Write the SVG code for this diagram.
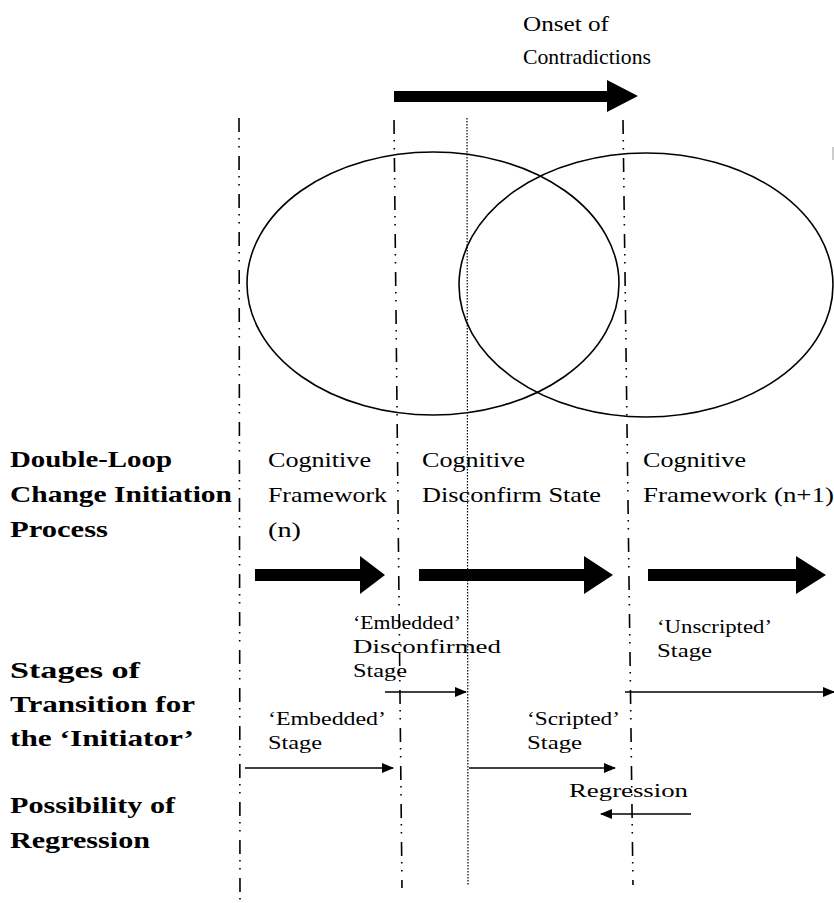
<svg xmlns="http://www.w3.org/2000/svg" width="834" height="903" viewBox="0 0 834 903">
  <style>
    .t { font-family: "Liberation Serif", "Times New Roman", serif; font-size: 22px; fill: #000; }
    .b { font-family: "Liberation Serif", "Times New Roman", serif; font-size: 23px; font-weight: bold; fill: #000; }
    .s { font-family: "Liberation Serif", "Times New Roman", serif; font-size: 19px; fill: #000; }
    .loop { fill: none; stroke: #000; stroke-width: 1.6; }
    .dashdot { fill: none; stroke: #000; stroke-width: 1.6; stroke-dasharray: 14 6 1.5 6.5 1.5 8.5; }
    .dotted { fill: none; stroke: #000; stroke-width: 1.2; stroke-dasharray: 1.5 1.5; }
    .thin { fill: none; stroke: #000; stroke-width: 1.5; }
    .block { fill: #000; stroke: none; }
  </style>
  <defs>
    <marker id="head" viewBox="0 0 12 10" refX="11" refY="5" markerWidth="12" markerHeight="10" markerUnits="userSpaceOnUse" orient="auto">
      <path d="M0,0 L12,5 L0,10 Z" fill="#000"/>
    </marker>
  </defs>

  <!-- boundary lines between phases -->
  <g id="boundaries">
    <line class="dashdot" x1="239" y1="118" x2="240" y2="903"/>
    <line class="dashdot" x1="394" y1="120" x2="402" y2="888"/>
    <line class="dotted" x1="467" y1="118" x2="468" y2="885"/>
    <line class="dashdot" x1="623" y1="120" x2="633" y2="885"/>
  </g>

  <!-- overlapping cognitive frameworks -->
  <g id="framework-n">
    <ellipse class="loop" cx="433" cy="283.5" rx="186" ry="131.5"/>
  </g>
  <g id="framework-n1">
    <ellipse class="loop" cx="646" cy="285" rx="187" ry="132"/>
  </g>
  <line x1="833" y1="147" x2="833" y2="160" stroke="#bbb" stroke-width="1.5"/>

  <!-- onset of contradictions -->
  <g id="onset">
    <text class="t" x="523" y="31" textLength="86" lengthAdjust="spacingAndGlyphs">Onset of</text>
    <text class="t" x="523" y="64" textLength="128" lengthAdjust="spacingAndGlyphs">Contradictions</text>
    <polygon class="block" points="394,91 607,91 607,80 638,96 607,112 607,102 394,102"/>
  </g>

  <!-- row labels -->
  <g id="label-process">
    <text class="b" x="10" y="467" textLength="162" lengthAdjust="spacingAndGlyphs">Double-Loop</text>
    <text class="b" x="10" y="502" textLength="222" lengthAdjust="spacingAndGlyphs">Change Initiation</text>
    <text class="b" x="10" y="537" textLength="98" lengthAdjust="spacingAndGlyphs">Process</text>
  </g>
  <g id="label-stages">
    <text class="b" x="10" y="678" textLength="130" lengthAdjust="spacingAndGlyphs">Stages of</text>
    <text class="b" x="10" y="712" textLength="185" lengthAdjust="spacingAndGlyphs">Transition for</text>
    <text class="b" x="10" y="746" textLength="184" lengthAdjust="spacingAndGlyphs">the ‘Initiator’</text>
  </g>
  <g id="label-regression">
    <text class="b" x="10" y="813" textLength="165" lengthAdjust="spacingAndGlyphs">Possibility of</text>
    <text class="b" x="10" y="848" textLength="140" lengthAdjust="spacingAndGlyphs">Regression</text>
  </g>

  <!-- process phases -->
  <g id="phase-framework-n">
    <text class="t" x="268" y="467" textLength="103" lengthAdjust="spacingAndGlyphs">Cognitive</text>
    <text class="t" x="268" y="502" textLength="119" lengthAdjust="spacingAndGlyphs">Framework</text>
    <text class="t" x="268" y="537" textLength="33" lengthAdjust="spacingAndGlyphs">(n)</text>
    <polygon class="block" points="255,569 360,569 360,556 385,575 360,594 360,581 255,581"/>
  </g>
  <g id="phase-disconfirm">
    <text class="t" x="422" y="467" textLength="103" lengthAdjust="spacingAndGlyphs">Cognitive</text>
    <text class="t" x="422" y="502" textLength="179" lengthAdjust="spacingAndGlyphs">Disconfirm State</text>
    <polygon class="block" points="419,569 584,569 584,556 613,575 584,594 584,581 419,581"/>
  </g>
  <g id="phase-framework-n1">
    <text class="t" x="643" y="467" textLength="103" lengthAdjust="spacingAndGlyphs">Cognitive</text>
    <text class="t" x="643" y="502" textLength="191" lengthAdjust="spacingAndGlyphs">Framework (n+1)</text>
    <polygon class="block" points="648,569 796,569 796,556 826,575 796,594 796,581 648,581"/>
  </g>

  <!-- stages of transition -->
  <g id="stage-embedded-disconfirmed">
    <text class="s" x="353" y="629" textLength="108" lengthAdjust="spacingAndGlyphs">‘Embedded’</text>
    <text class="s" x="353" y="653" textLength="148" lengthAdjust="spacingAndGlyphs">Disconfirmed</text>
    <text class="s" x="353" y="677" textLength="54" lengthAdjust="spacingAndGlyphs">Stage</text>
  </g>
  <g id="stage-unscripted">
    <text class="s" x="657" y="633" textLength="115" lengthAdjust="spacingAndGlyphs">‘Unscripted’</text>
    <text class="s" x="657" y="657" textLength="55" lengthAdjust="spacingAndGlyphs">Stage</text>
  </g>
  <g id="stage-embedded">
    <text class="s" x="268" y="725" textLength="118" lengthAdjust="spacingAndGlyphs">‘Embedded’</text>
    <text class="s" x="268" y="749" textLength="54" lengthAdjust="spacingAndGlyphs">Stage</text>
  </g>
  <g id="stage-scripted">
    <text class="s" x="527" y="725" textLength="93" lengthAdjust="spacingAndGlyphs">‘Scripted’</text>
    <text class="s" x="527" y="749" textLength="55" lengthAdjust="spacingAndGlyphs">Stage</text>
  </g>
  <g id="regression">
    <text class="s" x="569" y="797" textLength="119" lengthAdjust="spacingAndGlyphs">Regression</text>
  </g>

  <!-- stage transitions -->
  <g id="connectors">
    <line class="thin" x1="385" y1="692" x2="466" y2="692" marker-end="url(#head)"/>
    <line class="thin" x1="625" y1="692" x2="834" y2="692" marker-end="url(#head)"/>
    <line class="thin" x1="245" y1="768" x2="393" y2="768" marker-end="url(#head)"/>
    <line class="thin" x1="469" y1="768" x2="615" y2="768" marker-end="url(#head)"/>
    <line class="thin" x1="691" y1="814" x2="601" y2="814" marker-end="url(#head)"/>
  </g>
</svg>
